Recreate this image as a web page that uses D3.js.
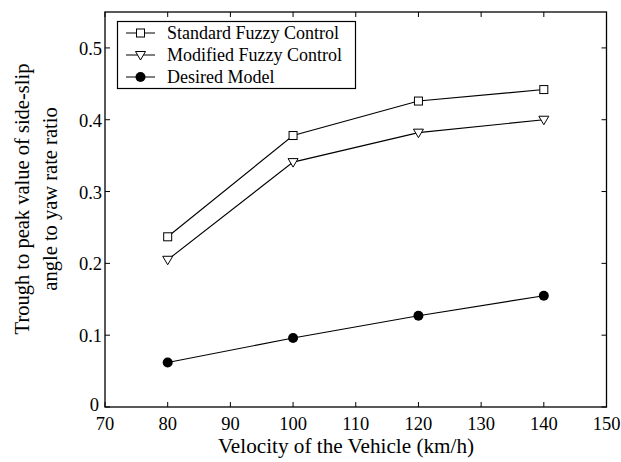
<!DOCTYPE html>
<html><head><meta charset="utf-8">
<script src="https://cdn.jsdelivr.net/npm/d3@7"></script>
<style>body{margin:0;background:#fff}svg{display:block}text{font-family:"Liberation Serif","Times New Roman",serif;fill:#000}</style>
</head><body>
<svg id="c" width="621" height="462"></svg>
<script>
const velocities = [80, 100, 120, 140];
const standardFuzzy = [0.237, 0.378, 0.426, 0.442];
const modifiedFuzzy = [0.205, 0.341, 0.382, 0.400];
const desiredModel = [0.062, 0.096, 0.127, 0.155];
const xTicks = [70, 80, 90, 100, 110, 120, 130, 140, 150];
const yTicks = [0, 0.1, 0.2, 0.3, 0.4, 0.5];
const seriesNames = ["Standard Fuzzy Control", "Modified Fuzzy Control", "Desired Model"];

const svg = d3.select("#c");
const L = 105, R = 606.5, T = 12, B = 407;
const x = d3.scaleLinear().domain([70, 150]).range([L, R]);
const y = d3.scaleLinear().domain([0, 0.55]).range([B, T]);

svg.append("rect").attr("x", L).attr("y", T).attr("width", R - L).attr("height", B - T)
  .attr("fill", "none").attr("stroke", "#000").attr("stroke-width", 1.3);

const tl = 5;
const g = svg.append("g");
xTicks.forEach(v => {
  g.append("line").attr("x1", x(v)).attr("x2", x(v)).attr("y1", B).attr("y2", B - tl).attr("stroke", "#000");
  g.append("line").attr("x1", x(v)).attr("x2", x(v)).attr("y1", T).attr("y2", T + tl).attr("stroke", "#000");
  g.append("text").attr("x", x(v)).attr("y", B + 23).attr("text-anchor", "middle").attr("font-size", 18.5).text(v);
});
yTicks.forEach(v => {
  g.append("line").attr("x1", L).attr("x2", L + tl).attr("y1", y(v)).attr("y2", y(v)).attr("stroke", "#000");
  g.append("line").attr("x1", R).attr("x2", R - tl).attr("y1", y(v)).attr("y2", y(v)).attr("stroke", "#000");
  g.append("text").attr("x", v === 0 ? L - 6 : L - 3).attr("y", v === 0 ? y(v) + 4 : y(v) + 7).attr("text-anchor", "end").attr("font-size", 18.5).text(v === 0 ? "0" : d3.format(".1f")(v));
});

svg.append("text").attr("x", 346).attr("y", 453).attr("text-anchor", "middle").attr("font-size", 21.2).text("Velocity of the Vehicle (km/h)");
const yl = svg.append("text").attr("transform", "translate(0,199) rotate(-90)").attr("text-anchor", "middle").attr("font-size", 20.5);
yl.append("tspan").attr("x", 0).attr("y", 29).text("Trough to peak value of side-slip");
yl.append("tspan").attr("x", 0).attr("y", 57).text("angle to yaw rate ratio");

const line = d3.line().x((d, i) => x(velocities[i])).y(d => y(d));
const all = [standardFuzzy, modifiedFuzzy, desiredModel];
all.forEach(s => svg.append("path").attr("d", line(s)).attr("fill", "none").attr("stroke", "#000").attr("stroke-width", 1.1));

function marker(gg, type, cx, cy) {
  if (type === 0) gg.append("rect").attr("x", cx - 4).attr("y", cy - 4).attr("width", 8).attr("height", 8).attr("fill", "#fff").attr("stroke", "#000");
  else if (type === 1) gg.append("path").attr("d", `M${cx-5},${cy-3.5}L${cx+5},${cy-3.5}L${cx},${cy+5}Z`).attr("fill", "#fff").attr("stroke", "#000");
  else gg.append("circle").attr("cx", cx).attr("cy", cy).attr("r", 5).attr("fill", "#000");
}
all.forEach((s, k) => s.forEach((v, i) => marker(svg, k, x(velocities[i]), y(v))));

const lg = svg.append("g");
lg.append("rect").attr("x", 117.5).attr("y", 21.5).attr("width", 238).attr("height", 67).attr("fill", "#fff").attr("stroke", "#000").attr("stroke-width", 1.2);
seriesNames.forEach((n, k) => {
  const yy = 33 + k * 22;
  lg.append("line").attr("x1", 126).attr("x2", 155).attr("y1", yy).attr("y2", yy).attr("stroke", "#000");
  marker(lg, k, 140.5, yy);
  lg.append("text").attr("x", 167).attr("y", yy + 6).attr("font-size", 18).text(n);
});
</script>
</body></html>
